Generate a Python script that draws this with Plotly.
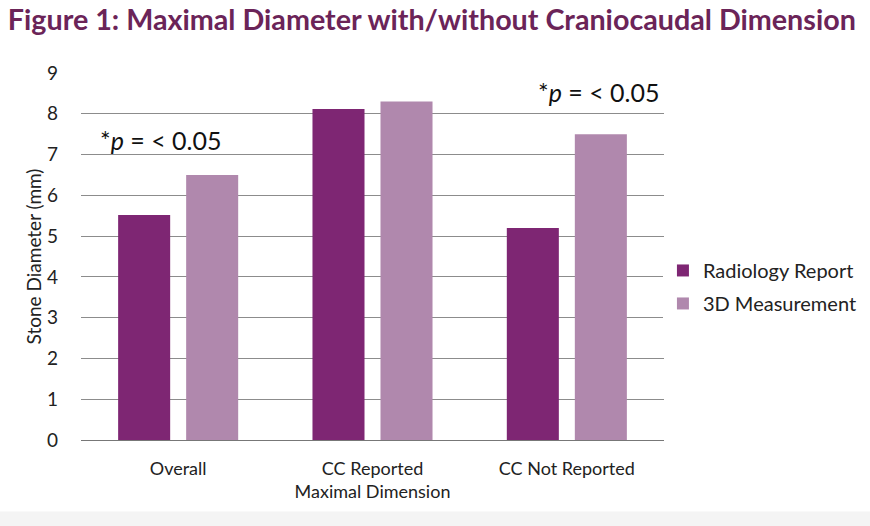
import plotly.graph_objects as go

categories = ["Overall", "CC Reported<br>Maximal Dimension", "CC Not Reported"]
radiology = [5.52, 8.12, 5.2]
measurement_3d = [6.5, 8.3, 7.5]
series_names = ["Radiology Report", "3D Measurement"]
y_ticks = [0, 1, 2, 3, 4, 5, 6, 7, 8, 9]

FONT = "Lato, 'Open Sans', sans-serif"

fig = go.Figure()
fig.add_trace(go.Bar(x=categories, y=radiology, name=series_names[0], legendgroup="a",
                     marker=dict(color="#7E2673", line=dict(width=0))))
fig.add_trace(go.Bar(x=categories, y=measurement_3d, name=series_names[1], legendgroup="b",
                     marker=dict(color="#B088AD", line=dict(width=0))))

fig.update_layout(
    width=870, height=526,
    paper_bgcolor="white", plot_bgcolor="white",
    margin=dict(l=81, r=206, t=73, b=86, autoexpand=False),
    barmode="group", bargap=0.3, bargroupgap=0.235,
    font=dict(family=FONT, size=18, color="#222"),
    title=dict(text="<b>Figure 1: Maximal Diameter with/without Craniocaudal Dimension</b>",
               x=0.009, xanchor="left", y=0.962, yanchor="middle",
               font=dict(family=FONT, size=28.7, color="#6B2458")),
    xaxis=dict(showgrid=False, showline=False, ticks="", ticklabelstandoff=16,
               tickfont=dict(size=18, color="#222")),
    yaxis=dict(range=[0, 9], tickvals=y_ticks, showgrid=True, gridcolor="#8C8C8C", gridwidth=1,
               zeroline=True, zerolinecolor="#777", zerolinewidth=1,
               ticks="", ticklen=0, ticklabelstandoff=22, tickfont=dict(size=19, color="#222"),
               title=dict(text="Stone Diameter (mm)", font=dict(size=19, color="#222"), standoff=0)),
    legend=dict(xref="container", x=0.762, y=0.417, xanchor="left", yanchor="middle",
                font=dict(size=20, color="#222"), itemwidth=30, tracegroupgap=4),
    showlegend=True,
)

fig.add_annotation(xref="paper", yref="y", x=0.03, y=7.35, xanchor="left", yanchor="middle",
                   text="*<i>p</i> = < 0.05", showarrow=False, font=dict(size=25, color="#111"))
fig.add_annotation(xref="paper", yref="y", x=0.995, y=8.53, xanchor="right", yanchor="middle",
                   text="*<i>p</i> = < 0.05", showarrow=False, font=dict(size=25, color="#111"))

fig.add_shape(type="rect", xref="paper", yref="paper", x0=-0.2, x1=1.4, y0=-0.25, y1=-0.195,
              fillcolor="#F4F4F4", line=dict(width=0), layer="below")

fig.write_html("out.html")
